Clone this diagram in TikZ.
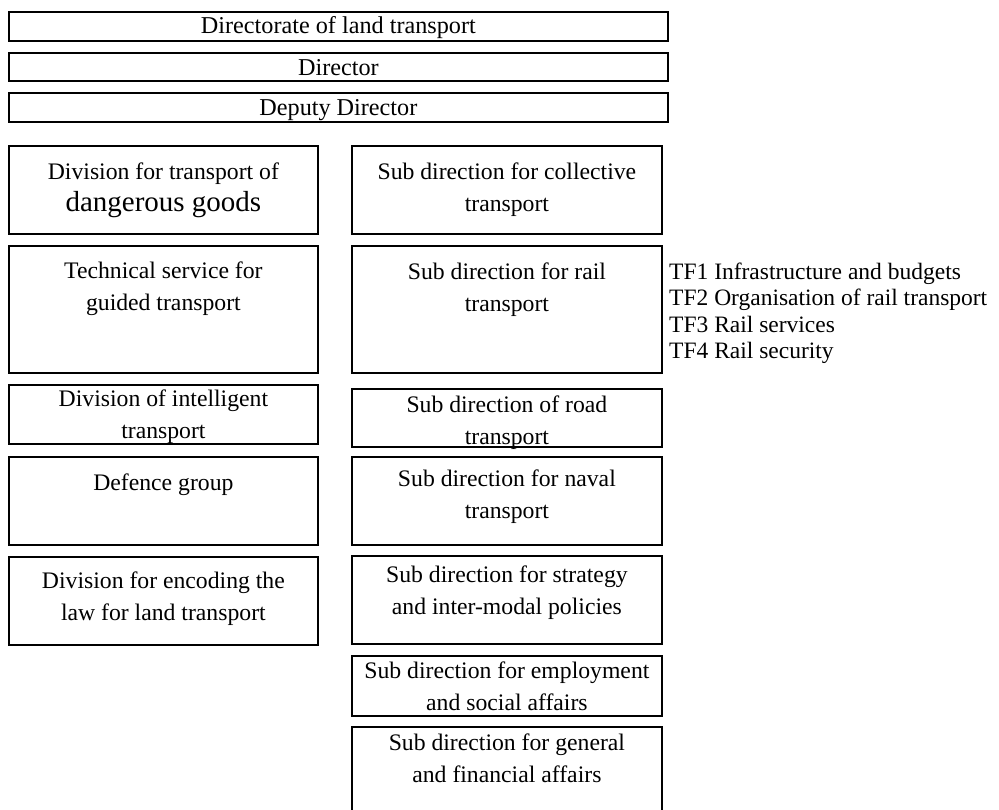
\documentclass[tikz,border=0pt]{standalone}
\usepackage{fontspec}
\setmainfont{Liberation Serif}
\newcommand{\boxtext}[4]{\parbox[c][#1][t]{#2}{\centering\rule{0pt}{#3}#4}}
\begin{document}
\begin{tikzpicture}[x=1pt,y=-1pt,
  box/.style={draw, line width=1.8pt, inner sep=0pt, anchor=north west,
    font=\fontsize{23.7pt}{32pt}\selectfont},
  topbox/.style={box, font=\fontsize{24.2pt}{32pt}\selectfont},
  tf/.style={anchor=base west, inner sep=0pt, font=\fontsize{23.5pt}{28pt}\selectfont}]
\clip (0,0) rectangle (999,809);
% top boxes
\node[topbox] (dlt) at (8,11) {\boxtext{29pt}{659pt}{22pt}{Directorate of land transport}};
\node[topbox] (dir) at (8,52) {\boxtext{28pt}{659pt}{23pt}{Director}};
\node[topbox] (dep) at (8,92) {\boxtext{29pt}{659pt}{23pt}{Deputy Director}};
% left column
\node[box] (dg) at (8,145) {\boxtext{88pt}{309pt}{34pt}{Division for transport of\\{\fontsize{29pt}{33pt}\selectfont dangerous goods}}};
\node[box] (ts) at (8,245) {\boxtext{127pt}{309pt}{33pt}{Technical service for\\guided transport}};
\node[box] (it) at (8,384) {\boxtext{59pt}{309pt}{22pt}{Division of intelligent\\transport}};
\node[box] (dfg) at (8,456) {\boxtext{88pt}{309pt}{34pt}{Defence group}};
\node[box] (enc) at (8,556) {\boxtext{88pt}{309pt}{32pt}{Division for encoding the\\law for land transport}};
% right column
\node[box] (col) at (351,145) {\boxtext{88pt}{310pt}{34pt}{Sub direction for collective\\transport}};
\node[box] (rail) at (351,245) {\boxtext{127pt}{310pt}{34pt}{Sub direction for rail\\transport}};
\node[box] (road) at (351,388) {\boxtext{58pt}{310pt}{24pt}{Sub direction of road\\transport}};
\node[box] (nav) at (351,456) {\boxtext{88pt}{310pt}{30pt}{Sub direction for naval\\transport}};
\node[box] (str) at (351,555) {\boxtext{88pt}{310pt}{27pt}{Sub direction for strategy\\and inter-modal policies}};
\node[box] (emp) at (351,655) {\boxtext{60pt}{310pt}{23pt}{Sub direction for employment\\and social affairs}};
\node[box] (gen) at (351,726) {\boxtext{100pt}{310pt}{24pt}{Sub direction for general\\and financial affairs}};
% task forces
\node[tf] (tf1) at (669,279) {TF1 Infrastructure and budgets};
\node[tf] (tf2) at (669,305) {TF2 Organisation of rail transport};
\node[tf] (tf3) at (669,332) {TF3 Rail services};
\node[tf] (tf4) at (669,358) {TF4 Rail security};
\end{tikzpicture}
\end{document}
